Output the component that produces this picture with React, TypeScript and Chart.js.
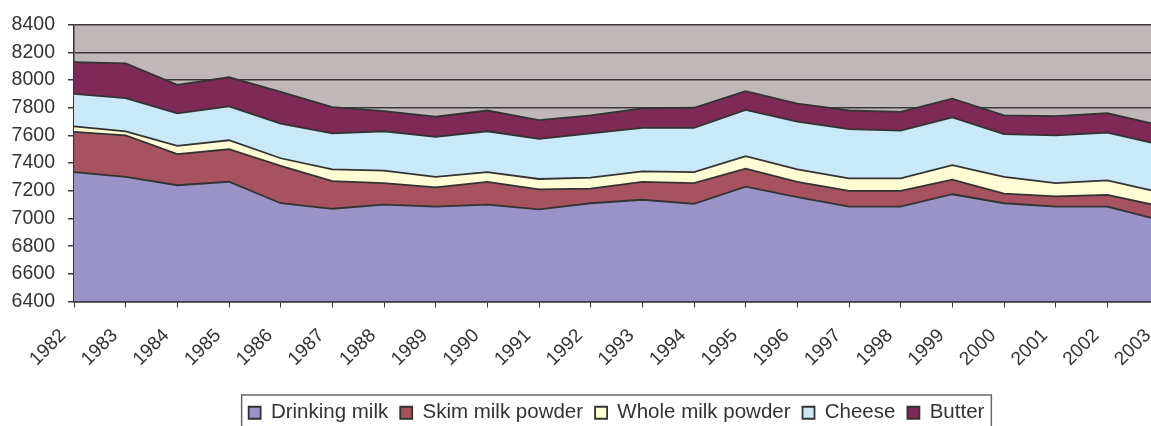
import React, { useEffect, useRef } from "react";
import { Chart, registerables } from "chart.js";

Chart.register(...registerables);

const years = [
  "1982", "1983", "1984", "1985", "1986", "1987", "1988", "1989", "1990", "1991", "1992",
  "1993", "1994", "1995", "1996", "1997", "1998", "1999", "2000", "2001", "2002", "2003",
];

const drinkingMilk = [7335, 7300, 7240, 7265, 7110, 7070, 7100, 7085, 7100, 7065, 7110, 7135, 7105, 7230, 7155, 7085, 7085, 7175, 7110, 7085, 7085, 6990];
const skimMilkPowder = [290, 300, 225, 235, 270, 200, 155, 140, 165, 145, 105, 130, 150, 130, 110, 115, 115, 105, 70, 75, 85, 100];
const wholeMilkPowder = [40, 30, 60, 65, 55, 85, 90, 75, 70, 75, 80, 75, 80, 90, 90, 90, 90, 105, 120, 95, 105, 100];
const cheese = [235, 240, 235, 245, 250, 260, 285, 290, 295, 290, 320, 315, 320, 335, 345, 355, 345, 345, 310, 345, 345, 345];
const butter = [230, 250, 205, 210, 230, 190, 145, 145, 150, 135, 130, 140, 145, 135, 130, 135, 135, 135, 135, 140, 140, 140];

const yMin = 6400;
const yMax = 8400;
const yStep = 200;

const seriesNames = ["Drinking milk", "Skim milk powder", "Whole milk powder", "Cheese", "Butter"];
const seriesColors = ["#9A93C7", "#A6535F", "#FFFDD3", "#C9E8F8", "#7F2A56"];

const plotBackground = {
  id: "plotBackground",
  beforeDraw(chart: any) {
    const { ctx, chartArea } = chart;
    ctx.save();
    ctx.fillStyle = "#C0B8B8";
    ctx.fillRect(chartArea.left, chartArea.top, chartArea.right - chartArea.left, chartArea.bottom - chartArea.top);
    ctx.restore();
  },
};

const legendBorder = {
  id: "legendBorder",
  afterDraw(chart: any) {
    const boxes = chart.legend && chart.legend.legendHitBoxes;
    if (!boxes || !boxes.length) return;
    const first = boxes[0];
    const last = boxes[boxes.length - 1];
    const { ctx } = chart;
    ctx.save();
    ctx.strokeStyle = "#666";
    ctx.lineWidth = 1.5;
    const left = first.left - 7;
    const right = last.left + last.width + 7;
    const top = first.top - 7.5;
    ctx.strokeRect(left, top, right - left, 60);
    ctx.restore();
  },
};

export default function App() {
  const canvasRef = useRef<HTMLCanvasElement | null>(null);

  useEffect(() => {
    const canvas = canvasRef.current;
    if (!canvas) return;
    const values = [drinkingMilk, skimMilkPowder, wholeMilkPowder, cheese, butter];
    const chart = new Chart(canvas, {
      type: "line",
      data: {
        labels: years,
        datasets: values.map((v, i) => ({
          label: seriesNames[i],
          data: v,
          backgroundColor: seriesColors[i],
          borderColor: "#333333",
          borderWidth: 1.8,
          pointRadius: 0,
          tension: 0,
          fill: i === 0 ? "start" : "-1",
        })),
      },
      options: {
        responsive: false,
        animation: false,
        events: [],
        layout: { padding: { left: 0, top: 24, right: 3, bottom: 7 } },
        plugins: {
          tooltip: { enabled: false },
          legend: {
            position: "bottom",
            fullSize: false,
            labels: {
              color: "#333",
              font: { family: "'Liberation Sans', Arial, sans-serif", size: 20.5 },
              boxWidth: 12,
              boxHeight: 12,
              padding: 12,
            },
          },
        },
        scales: {
          x: {
            type: "category",
            offset: false,
            grid: { drawOnChartArea: false, drawTicks: true, tickLength: 6, color: "#333" },
            border: { color: "#333", width: 1.5 },
            ticks: {
              color: "#333",
              font: { family: "'Liberation Sans', Arial, sans-serif", size: 19 },
              minRotation: 45,
              maxRotation: 45,
              autoSkip: false,
              padding: 17,
              labelOffset: -11,
            },
            afterFit(scale: any) {
              scale.paddingLeft = 0;
              scale.paddingRight = 0;
              scale.height = 89;
            },
          },
          y: {
            stacked: true,
            min: yMin,
            max: yMax,
            grid: { color: "#3a3a3a", lineWidth: 1.5, tickLength: 6 },
            border: { color: "#333", width: 1.5 },
            ticks: {
              stepSize: yStep,
              color: "#333",
              font: { family: "'Liberation Sans', Arial, sans-serif", size: 19.5 },
              padding: 13,
              callback: (value: any) => String(value),
            },
            afterFit(scale: any) {
              scale.width = 74;
            },
          },
        },
      },
      plugins: [plotBackground, legendBorder],
    });
    return () => chart.destroy();
  }, []);

  return (
    <div style={{ position: "fixed", left: 0, top: 0, width: 1151, height: 426, overflow: "hidden", background: "#fff" }}>
      <canvas ref={canvasRef} width={1162} height={440} style={{ width: 1162, height: 440, display: "block" }} />
    </div>
  );
}
